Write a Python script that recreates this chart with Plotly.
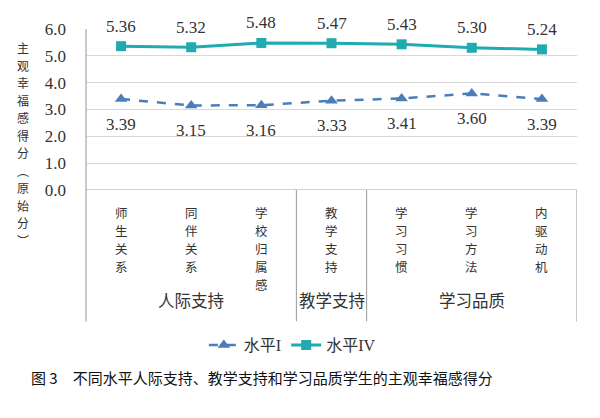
import plotly.graph_objects as go

# subjective well-being scores by level
categories = ["师生关系", "同伴关系", "学校归属感", "教学支持", "学习习惯", "学习方法", "内驱动机"]
groups = ["人际支持", "教学支持", "学习品质"]
group_spans = [(0, 2), (3, 3), (4, 6)]
level_1 = [3.39, 3.15, 3.16, 3.33, 3.41, 3.60, 3.39]
level_4 = [5.36, 5.32, 5.48, 5.47, 5.43, 5.30, 5.24]
y_ticks = [0, 1, 2, 3, 4, 5, 6]
y_title = "主观幸福感得分︵原始分︶"

FONT = "Liberation Serif, Noto Sans CJK SC"
CJK = "Noto Sans CJK SC, Liberation Serif"
TXT = "#333333"
GRID = "#d9d9d9"
AXIS = "#a6a6a6"
BLUE = "#4a7ebb"
TEAL = "#1fabb0"
CAT_PITCH = 18     # vertical spacing of stacked category characters
TITLE_PITCH = 17.5

xs = list(range(len(categories)))

fig = go.Figure()

fig.add_scatter(x=xs, y=level_1, name="水平I", mode="lines+markers",
                line={"color": BLUE, "width": 2.5, "dash": "dash"},
                marker={"symbol": "triangle-up", "size": 11, "color": BLUE})
fig.add_scatter(x=xs, y=level_4, name="水平IV", mode="lines+markers",
                line={"color": TEAL, "width": 3},
                marker={"symbol": "square", "size": 10, "color": TEAL})

# value labels
for x, v in zip(xs, level_4):
    fig.add_annotation(x=x, y=v, text=f"{v:.2f}", showarrow=False, yshift=20,
                       font={"family": FONT, "size": 17, "color": TXT})
for x, v in zip(xs, level_1):
    fig.add_annotation(x=x, y=v, text=f"{v:.2f}", showarrow=False, yshift=-25,
                       font={"family": FONT, "size": 17, "color": TXT})

# vertical category labels, one character per row
for x, c in zip(xs, categories):
    for j, ch in enumerate(c):
        fig.add_annotation(x=x, y=-0.07, xref="x", yref="paper", yanchor="top",
                           yshift=-j * CAT_PITCH, text=ch, showarrow=False,
                           font={"family": CJK, "size": 12.5, "color": TXT})

# group labels
for g, (a, b) in zip(groups, group_spans):
    fig.add_annotation(x=(a + b) / 2, y=-0.77, xref="x", yref="paper",
                       text=g, showarrow=False,
                       font={"family": CJK, "size": 16.5, "color": TXT})

# separators and frame of the category area
fig.add_shape(type="line", xref="paper", yref="paper", x0=0, x1=0, y0=1, y1=-0.816,
              line={"color": AXIS, "width": 1.2})
for sx in [2.5, 3.5, 6.5]:
    fig.add_shape(type="line", xref="x", yref="paper", x0=sx, x1=sx, y0=0, y1=-0.816,
                  line={"color": AXIS, "width": 1.2})
fig.add_shape(type="line", xref="paper", yref="y", x0=0, x1=1, y0=0, y1=0,
              line={"color": AXIS, "width": 1.2})

# y-axis title, stacked characters from the top down
for j, ch in enumerate(y_title):
    fig.add_annotation(x=-0.145, y=1.0, xref="paper", yref="paper", yanchor="top",
                       yshift=-8 - j * TITLE_PITCH, text=ch, showarrow=False,
                       font={"family": CJK, "size": 12, "color": TXT})

# caption
fig.add_annotation(x=(262 - 86) / 491, y=(190 - 392) / 163, xref="paper", yref="paper",
                   showarrow=False,
                   text="图 3　不同水平人际支持、教学支持和学习品质学生的主观幸福感得分",
                   font={"family": CJK, "size": 15, "color": "#111111"})

fig.update_xaxes(range=[-0.5, 6.5], showticklabels=False, showgrid=False,
                 zeroline=False, showline=False)
fig.update_yaxes(range=[0, 6], tickvals=y_ticks, tickformat=".1f",
                 gridcolor=GRID, gridwidth=1, zeroline=False, showline=False,
                 ticklabelstandoff=19,
                 tickfont={"family": FONT, "size": 17, "color": TXT})

# page has an 8px body margin, so the figure is drawn 8px smaller
fig.update_layout(
    width=592, height=410,
    margin={"l": 78, "r": 23, "t": 19, "b": 228},
    plot_bgcolor="white", paper_bgcolor="white",
    showlegend=True,
    legend={"orientation": "h", "x": 0.24, "xanchor": "left",
            "y": -0.963, "yanchor": "middle",
            "font": {"family": FONT, "size": 16, "color": TXT},
            "itemwidth": 30},
)

fig.write_html("out.html")
